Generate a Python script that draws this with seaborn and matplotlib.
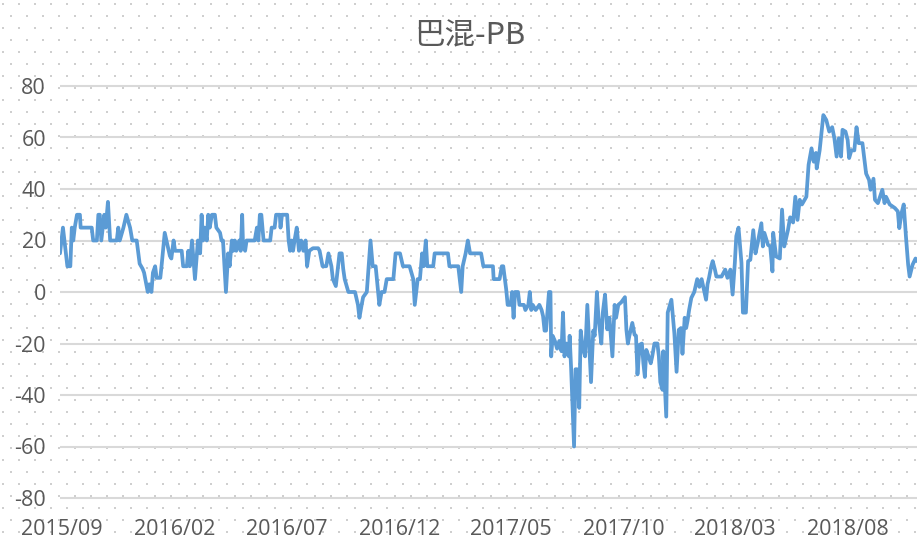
import numpy as np
import pandas as pd
import matplotlib
matplotlib.use("Agg")
import matplotlib.pyplot as plt
import seaborn as sns

# ---------------- data ----------------
title = "巴混-PB"
start_date = "2015-08-29"
day_offsets = [
    0, 4, 10, 14, 16, 18, 20, 23, 27, 28, 43, 45, 50, 52, 54, 56, 60, 62, 65, 68,
    77, 79, 81, 86, 90, 95, 98, 104, 108, 112, 114, 119, 121, 124, 126, 129, 131, 136, 138, 142,
    149, 151, 154, 156, 165, 167, 172, 174, 176, 179, 183, 187, 190, 192, 194, 196, 199, 201, 203, 206,
    210, 212, 217, 219, 221, 225, 228, 230, 233, 235, 237, 239, 243, 245, 247, 248, 251, 253, 264, 267,
    269, 271, 273, 276, 285, 287, 291, 293, 298, 299, 301, 308, 310, 312, 314, 316, 318, 321, 324, 327,
    330, 333, 335, 338, 343, 350, 352, 356, 361, 364, 368, 370, 374, 377, 379, 382, 384, 386, 391, 400,
    404, 406, 409, 411, 416, 421, 424, 428, 433, 436, 440, 443, 452, 455, 461, 465, 474, 479, 481, 485,
    488, 491, 493, 496, 498, 506, 508, 526, 528, 540, 542, 544, 546, 550, 553, 556, 571, 574, 587, 588,
    596, 599, 601, 605, 607, 611, 613, 615, 617, 621, 623, 629, 631, 635, 637, 639, 641, 645, 650, 653,
    655, 657, 659, 663, 665, 666, 668, 671, 674, 677, 680, 682, 684, 687, 690, 691, 693, 697, 699, 701,
    704, 706, 709, 712, 715, 717, 720, 723, 725, 728, 730, 732, 734, 736, 739, 742, 745, 749, 752, 754,
    757, 761, 766, 768, 770, 772, 776, 779, 781, 783, 786, 789, 791, 793, 795, 798, 801, 803, 806, 810,
    812, 814, 817, 818, 822, 824, 829, 833, 836, 839, 842, 844, 847, 849, 851, 853, 856, 860, 864, 867,
    870, 873, 876, 878, 880, 883, 885, 888, 890, 897, 902, 905, 909, 912, 915, 917, 920, 924, 926, 930,
    933, 936, 940, 943, 946, 951, 953, 955, 960, 963, 966, 967, 971, 976, 979, 982, 987, 990, 994, 997,
    1000, 1003, 1006, 1012, 1015, 1019, 1022, 1025, 1026, 1030, 1035, 1039, 1043, 1047, 1050, 1053, 1056, 1059, 1061, 1065,
    1068, 1070, 1073, 1077, 1080, 1083, 1088, 1091, 1093, 1097, 1099, 1103, 1105, 1109, 1115, 1118, 1120, 1125, 1132, 1136,
    1138, 1141, 1144, 1147, 1150, 1152, 1156, 1160, 1162,
]
pb_values = [
    15, 25, 10, 10, 25, 20, 25, 30, 30, 25, 25, 20, 20, 30, 30, 20, 30, 25, 35, 20,
    20, 25, 20, 25, 30, 25, 20, 20, 11, 9, 7.5, 0, 3, 0, 7.5, 10, 5.5, 5.5, 11, 23,
    14, 13, 20, 16, 16, 10, 10, 16, 10, 20, 5, 20, 15, 30, 20, 25, 20, 30, 25, 30,
    30, 25, 23, 20, 20, 0, 15, 10, 20, 16, 20, 16, 20, 16, 30, 20, 16, 20, 20, 25,
    20, 30, 30, 20, 20, 25, 25, 30, 30, 25, 30, 30, 20, 16, 20, 16, 20, 25, 16, 20,
    16, 20, 10, 16, 17, 17, 16, 10, 10, 15, 10, 5, 2.3, 10, 15, 15, 9, 5, 0, 0,
    -5, -10, -5, -2, 0, 20, 10, 10, -5, 0, 0, 5, 5, 15, 15, 10, 10, 5, -5, 5,
    5, 15, 10, 20, 10, 10, 15, 15, 10, 10, 5, 0, 10, 15, 20, 15, 15, 10, 10, 5,
    5, 10, 10, 1, -5, -5, 0, -10, 0, 0, -5, -5, -7, -5, 0, -7, -5, -7, -5, -7,
    -9.4, -15, -15, 0, 0, -25, -17, -19, -22, -19, -23, -8, -25, -20, -25, -17, -29.5, -60, -30, -30,
    -45, -15, -22, -25, -5, -17, -35, -15, -17, 0, -9.4, -15, -20, -8, -1, -14.5, -10, -25, -5, -10,
    -5, -4, -2, -14.7, -20, -17, -12, -16.6, -17, -32, -20.5, -20, -27.7, -33, -22.5, -25, -27.7, -25, -20, -20,
    -25, -35, -38, -23, -48.4, -8, -3, -16, -31, -14.7, -14, -24, -10, -14, -11, -7, -2.3, 0, 5, 2,
    5, 1, -3, 3, 5.5, 10, 12, 8.7, 6, 6, 8.7, 5.5, 8.7, -1, 11.3, 21.7, 25, 11.3, -8, -8,
    12, 12.5, 24, 15, 19, 26.7, 17.7, 23, 18.3, 17.7, 8, 23, 13.8, 13, 32, 17.7, 24, 29, 27, 37,
    28, 35.8, 34, 37, 49.4, 55.8, 50.6, 54, 48, 55, 68.7, 66.8, 62.3, 64, 59.7, 52.6, 59.7, 52.6, 63, 62.3,
    59, 52, 55, 55, 64, 57.8, 57.8, 50.6, 46, 43.5, 39.7, 44, 35.8, 34.5, 39.7, 34.5, 37, 34, 32.6, 31.3,
    24.8, 30.6, 34, 21.6, 10.6, 6, 10.6, 13, 12,
]
x_tick_dates = ["2015-09-01", "2016-02-01", "2016-07-01", "2016-12-01",
                "2017-05-01", "2017-10-01", "2018-03-01", "2018-08-01"]
x_tick_labels = ["2015/09", "2016/02", "2016/07", "2016/12",
                 "2017/05", "2017/10", "2018/03", "2018/08"]
y_ticks = [-80, -60, -40, -20, 0, 20, 40, 60, 80]
y_tick_labels = ["-80", "-60", "-40", "-20", "0", "20", "40", "60", "80"]

# ---------------- build ----------------
dates = pd.Timestamp(start_date) + pd.to_timedelta(day_offsets, unit="D")
df = pd.DataFrame({"date": dates, "value": pb_values})

sns.set_style("white")
plt.rcParams["font.family"] = ["Open Sans", "Noto Sans CJK SC", "DejaVu Sans"]

W, H = 917, 540
fig = plt.figure(figsize=(W / 100, H / 100), dpi=100)
fig.patch.set_facecolor("white")

# dotted pattern background (Excel-style pattern fill)
bg = fig.add_axes([0, 0, 1, 1], zorder=-5)
bg.set_xlim(0, W)
bg.set_ylim(H, 0)
bg.axis("off")
xs, ys = [], []
for r, yy in enumerate(np.arange(4, H, 12)):
    off = 0 if r % 2 == 0 else 8
    for xx in np.arange(3 + off, W, 16):
        xs.append(xx)
        ys.append(yy)
bg.scatter(xs, ys, s=1.6, color="#cfcfcf", linewidths=0, marker="s")

# main axes: y -81..81 -> px 83.4..500.6
px_per_unit = 2.575
top_px = 292 - 81 * px_per_unit
bot_px = 292 + 81 * px_per_unit
left_px = 60
ax = fig.add_axes([left_px / W, 1 - bot_px / H, 1 - left_px / W, (bot_px - top_px) / H])
ax.set_facecolor("none")

sns.lineplot(data=df, x="date", y="value", ax=ax, color="#5B9BD5", linewidth=2.7)
for ln in ax.get_lines():
    ln.set_solid_joinstyle("round")
    ln.set_solid_capstyle("round")

ax.set_ylim(-81, 81)
ax.set_xlim(pd.Timestamp(start_date), pd.Timestamp(start_date) + pd.Timedelta(days=1162))
ax.set_yticks(y_ticks)
ax.set_yticklabels(y_tick_labels)
ax.set_xticks(pd.to_datetime(x_tick_dates))
ax.set_xticklabels(x_tick_labels)
ax.set_xlabel("")
ax.set_ylabel("")
ax.yaxis.grid(True, color="#d9d9d9", linewidth=1.5)
ax.xaxis.grid(False)
ax.set_axisbelow(True)
for s in ax.spines.values():
    s.set_visible(False)
ax.tick_params(axis="both", length=0, labelsize=15.5, colors="#595959")
ax.tick_params(axis="y", pad=10)
ax.tick_params(axis="x", pad=13)

fig.text(470 / W, 1 - 36 / H, title, ha="center", va="center", fontsize=22,
         color="#595959", family=["Noto Sans CJK SC", "DejaVu Sans"])

fig.savefig("out.png", dpi=100)
